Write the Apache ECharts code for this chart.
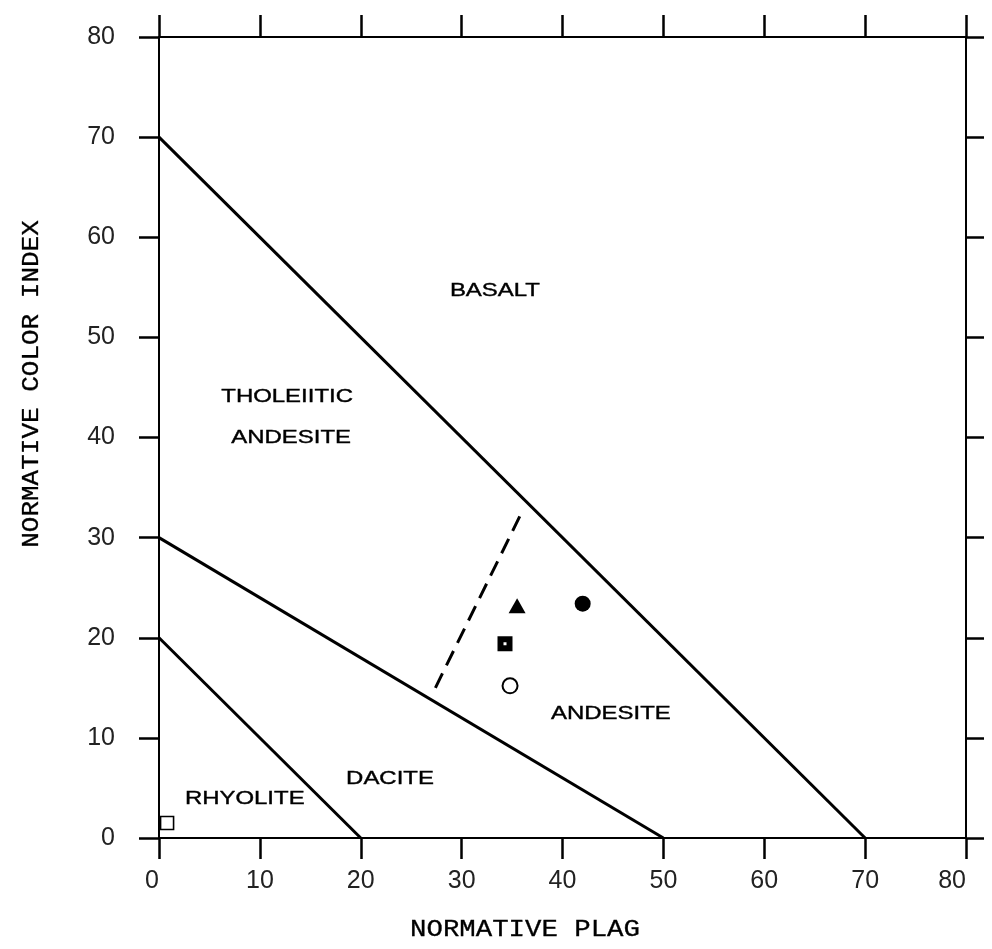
<!DOCTYPE html>
<html>
<head>
<meta charset="utf-8">
<script src="https://cdn.jsdelivr.net/npm/echarts@6/dist/echarts.min.js"></script>
<style>
  html, body { margin: 0; padding: 0; background: #fff; }
  #chart { width: 992px; height: 949px; }
</style>
</head>
<body>
<div id="chart"></div>
<script>
// Field boundaries: normative plagioclase (x) vs. normative colour index (y)
const basaltLineX = [0, 70];
const basaltLineY = [70, 0];
const andesiteLineX = [0, 50];
const andesiteLineY = [30, 0];
const daciteLineX = [0, 20];
const daciteLineY = [20, 0];
const tholeiiteDashX = [27.4, 35.8];
const tholeiiteDashY = [15.0, 32.2];

// Samples
const triangleSample = [35.5, 23.2];
const filledCircleSample = [42.0, 23.4];
const filledSquareSample = [34.3, 19.4];
const openCircleSample = [34.8, 15.2];
const openSquareSample = [0.8, 1.5];

// Field names and their anchor points
const fieldNames = ['BASALT', 'THOLEIITIC', 'ANDESITE', 'ANDESITE', 'DACITE', 'RHYOLITE'];
const fieldX = [33.3, 12.7, 13.1, 44.8, 22.9, 8.5];
const fieldY = [54.7, 44.1, 40.0, 12.4, 5.9, 3.9];

// Axis range and titles
const axisMin = 0;
const axisMax = 80;
const axisStep = 10;
const xTitle = 'NORMATIVE PLAG';
const yTitle = 'NORMATIVE COLOR INDEX';

const pairs = (xs, ys) => xs.map((x, i) => [x, ys[i]]);

const INK = '#000';
const tickFont = { fontFamily: "'Liberation Sans', Arial, sans-serif", fontSize: 25, color: '#222' };

function frameAxis(position, showLabels, tickLen, labelMargin) {
  return {
    type: 'value',
    position: position,
    min: axisMin,
    max: axisMax,
    interval: axisStep,
    axisLine: { show: true, onZero: false, lineStyle: { color: INK, width: 2 } },
    axisTick: { show: true, inside: false, length: tickLen, lineStyle: { color: INK, width: 2.5 } },
    axisLabel: Object.assign({ show: showLabels, margin: labelMargin }, tickFont),
    splitLine: { show: false }
  };
}

const xBottom = frameAxis('bottom', true, 21, 31);
xBottom.axisLabel.alignMinLabel = 'right';
xBottom.axisLabel.alignMaxLabel = 'right';
const xTop = frameAxis('top', false, 22, 8);
const yLeft = frameAxis('left', true, 20, 44);
const yRight = frameAxis('right', false, 18, 8);

function boundary(xs, ys, dashed) {
  return {
    type: 'line',
    data: pairs(xs, ys),
    symbol: 'none',
    silent: true,
    xAxisIndex: 0,
    yAxisIndex: 0,
    lineStyle: { color: INK, width: 3, opacity: 1, type: dashed ? [16, 9] : 'solid', cap: 'butt' },
    z: 2
  };
}

function sample(point, symbol, size, filled, border) {
  return {
    type: 'scatter',
    data: [point],
    symbol: symbol,
    symbolSize: size,
    xAxisIndex: 0,
    yAxisIndex: 0,
    itemStyle: filled
      ? { color: INK, borderWidth: 0, opacity: 1 }
      : { color: '#fff', borderColor: INK, borderWidth: border, opacity: 1 },
    emphasis: { disabled: true },
    z: 5
  };
}

const chart = echarts.init(document.getElementById('chart'), null, { renderer: 'canvas' });

chart.setOption({
  animation: false,
  backgroundColor: '#fff',
  grid: { left: 159, right: 26, top: 37, bottom: 111, containLabel: false },
  xAxis: [xBottom, xTop],
  yAxis: [yLeft, yRight],
  series: [
    boundary(basaltLineX, basaltLineY, false),
    boundary(andesiteLineX, andesiteLineY, false),
    boundary(daciteLineX, daciteLineY, false),
    boundary(tholeiiteDashX, tholeiiteDashY, true),
    sample(triangleSample, 'triangle', [17, 15], true),
    sample(filledCircleSample, 'circle', 16, true),
    sample(filledSquareSample, 'rect', 15, true),
    Object.assign(sample(filledSquareSample, 'rect', 3, false, 0), { itemStyle: { color: '#fff', opacity: 1 }, z: 6 }),
    sample(openCircleSample, 'circle', 15, false, 2),
    sample(openSquareSample, 'rect', 13, false, 1.6)
  ]
});

// Field names and axis titles, placed from data coordinates after layout
const fieldGraphics = fieldNames.map((name, i) => {
  const p = chart.convertToPixel({ gridIndex: 0 }, [fieldX[i], fieldY[i]]);
  return {
    type: 'text',
    x: p[0],
    y: p[1],
    scaleX: 1.26,
    silent: true,
    z: 10,
    style: {
      text: name,
      fill: INK,
      stroke: INK,
      lineWidth: 0.4,
      font: "19px 'Liberation Sans', Arial, sans-serif",
      align: 'center',
      verticalAlign: 'middle'
    }
  };
});

const titleFont = "23px 'Liberation Mono', 'Courier New', monospace";
chart.setOption({
  graphic: fieldGraphics.concat([
    {
      type: 'text',
      x: 525,
      y: 930,
      scaleX: 1.19,
      silent: true,
      style: { text: xTitle, fill: INK, stroke: INK, lineWidth: 0.3, font: titleFont, align: 'center', verticalAlign: 'middle' }
    },
    {
      type: 'text',
      x: 32,
      y: 384,
      rotation: Math.PI / 2,
      scaleX: 1.13,
      silent: true,
      style: { text: yTitle, fill: INK, stroke: INK, lineWidth: 0.3, font: titleFont, align: 'center', verticalAlign: 'middle' }
    }
  ])
});
</script>
</body>
</html>
